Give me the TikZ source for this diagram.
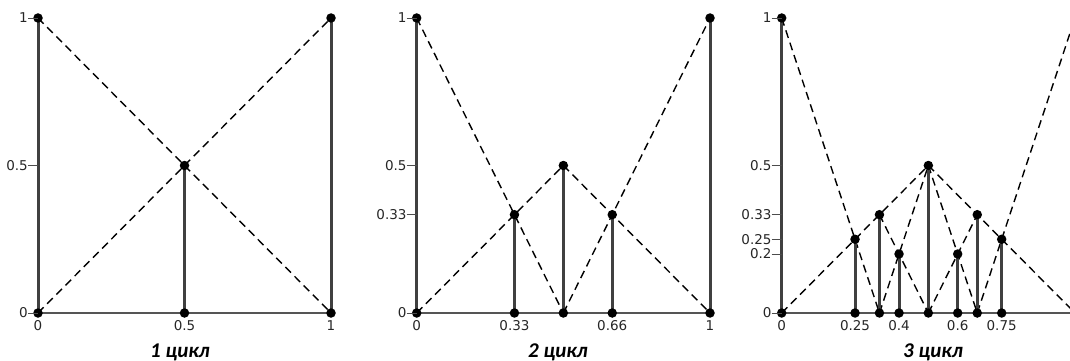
\documentclass[tikz,border=0pt]{standalone}
\usepackage{fontspec}
\setmainfont{DejaVu Sans}
\newfontfamily\titlefont{Carlito}
\tikzset{
  axisline/.style={line width=1.7pt, draw={rgb,255:red,85;green,85;blue,85}},
  bar/.style={line width=3pt, draw={rgb,255:red,64;green,64;blue,64}},
  dline/.style={line width=1.4pt, draw=black, dash pattern=on 8pt off 5pt},
  dot/.style={circle, fill=black, inner sep=0pt, minimum size=9.5pt},
  tickline/.style={line width=0.9pt, draw=black!70},
  ylab/.style={anchor=east, inner sep=0pt, text=black!85, font=\fontsize{13.5}{13.5}\selectfont},
  xlab/.style={anchor=north, inner sep=0pt, text=black!85, font=\fontsize{13.5}{13.5}\selectfont},
  ttl/.style={anchor=base, inner sep=0pt, font=\titlefont\bfseries\itshape\fontsize{21}{21}\selectfont}
}
\begin{document}
\begin{tikzpicture}[x=1pt,y=-1pt]
\useasboundingbox (0,0) rectangle (1070,361);
\clip (0,0) rectangle (1070,361);

% ---------------- Panel 1 ----------------
\begin{scope}[shift={(38,313)},x=293pt,y=295pt]
  \coordinate (a00) at (0,0);
  \coordinate (a01) at (0,1);
  \coordinate (a0h) at (0,0.5);
  \coordinate (ah0) at (0.5,0);
  \coordinate (ahh) at (0.5,0.5);
  \coordinate (a10) at (1,0);
  \coordinate (a11) at (1,1);
  \draw[axisline] (a00) -- (a10);
  \draw[dline] (a01) -- (a10);
  \draw[dline] (a00) -- (a11);
  \draw[bar] (a00) -- (a01);
  \draw[bar] (ah0) -- (ahh);
  \draw[bar] (a10) -- (a11);
  \node[dot] (da00) at (a00) {};
  \node[dot] (da01) at (a01) {};
  \node[dot] (dah0) at (ah0) {};
  \node[dot] (dahh) at (ahh) {};
  \node[dot] (da10) at (a10) {};
  \node[dot] (da11) at (a11) {};
  \node[ylab] (ya1) at ([xshift=-10pt]a01) {1};
  \node[ylab] (yah) at ([xshift=-10pt]a0h) {0.5};
  \node[ylab] (ya0) at ([xshift=-10pt]a00) {0};
  \draw[tickline] (ya1.east) -- (a01);
  \draw[tickline] (yah.east) -- (a0h);
  \draw[tickline] (ya0.east) -- (a00);
  \node[xlab] (xa0) at ([yshift=-7pt]a00) {0};
  \node[xlab] (xah) at ([yshift=-7pt]ah0) {0.5};
  \node[xlab] (xa1) at ([yshift=-7pt]a10) {1};
\end{scope}
\node[ttl] (t1) at (180,357) {1 цикл};

% ---------------- Panel 2 ----------------
\begin{scope}[shift={(416.7,313)},x=293.3pt,y=295pt]
  \coordinate (b00) at (0,0);
  \coordinate (b01) at (0,1);
  \coordinate (b0h) at (0,0.5);
  \coordinate (b0t) at (0,0.3333);
  \coordinate (bt0) at (0.3333,0);
  \coordinate (btt) at (0.3333,0.3333);
  \coordinate (bh0) at (0.5,0);
  \coordinate (bhh) at (0.5,0.5);
  \coordinate (bT0) at (0.6667,0);
  \coordinate (bTt) at (0.6667,0.3333);
  \coordinate (b10) at (1,0);
  \coordinate (b11) at (1,1);
  \draw[axisline] (b00) -- (b10);
  \draw[dline] (b01) -- (bh0);
  \draw[dline] (b00) -- (bhh);
  \draw[dline] (bhh) -- (b10);
  \draw[dline] (bh0) -- (b11);
  \draw[bar] (b00) -- (b01);
  \draw[bar] (bt0) -- (btt);
  \draw[bar] (bh0) -- (bhh);
  \draw[bar] (bT0) -- (bTt);
  \draw[bar] (b10) -- (b11);
  \node[dot] (db00) at (b00) {};
  \node[dot] (db01) at (b01) {};
  \node[dot] (dbt0) at (bt0) {};
  \node[dot] (dbtt) at (btt) {};
  \node[dot] (dbh0) at (bh0) {};
  \node[dot] (dbhh) at (bhh) {};
  \node[dot] (dbT0) at (bT0) {};
  \node[dot] (dbTt) at (bTt) {};
  \node[dot] (db10) at (b10) {};
  \node[dot] (db11) at (b11) {};
  \node[ylab] (yb1) at ([xshift=-10pt]b01) {1};
  \node[ylab] (ybh) at ([xshift=-10pt]b0h) {0.5};
  \node[ylab] (ybt) at ([xshift=-10pt]b0t) {0.33};
  \node[ylab] (yb0) at ([xshift=-10pt]b00) {0};
  \draw[tickline] (yb1.east) -- (b01);
  \draw[tickline] (ybh.east) -- (b0h);
  \draw[tickline] (ybt.east) -- (b0t);
  \draw[tickline] (yb0.east) -- (b00);
  \node[xlab] (xb0) at ([yshift=-7pt]b00) {0};
  \node[xlab] (xbt) at ([yshift=-7pt]bt0) {0.33};
  \node[xlab] (xbT) at ([yshift=-7pt]bT0) {0.66};
  \node[xlab] (xb1) at ([yshift=-7pt]b10) {1};
\end{scope}
\node[ttl] (t2) at (558,357) {2 цикл};

% ---------------- Panel 3 ----------------
\begin{scope}[shift={(781.7,313)},x=293.3pt,y=295pt]
  \coordinate (c00) at (0,0);
  \coordinate (c01) at (0,1);
  \coordinate (c0h) at (0,0.5);
  \coordinate (c0t) at (0,0.3333);
  \coordinate (c0q) at (0,0.25);
  \coordinate (c0f) at (0,0.2);
  \coordinate (cq0) at (0.25,0);
  \coordinate (cqq) at (0.25,0.25);
  \coordinate (ct0) at (0.3333,0);
  \coordinate (ctt) at (0.3333,0.3333);
  \coordinate (cf0) at (0.4,0);
  \coordinate (cff) at (0.4,0.2);
  \coordinate (ch0) at (0.5,0);
  \coordinate (chh) at (0.5,0.5);
  \coordinate (cs0) at (0.6,0);
  \coordinate (css) at (0.6,0.2);
  \coordinate (cT0) at (0.6667,0);
  \coordinate (cTt) at (0.6667,0.3333);
  \coordinate (cQ0) at (0.75,0);
  \coordinate (cQQ) at (0.75,0.25);
  \coordinate (c10) at (1,0);
  \coordinate (c11) at (1,1);
  \draw[axisline] (c00) -- (c10);
  \draw[dline] (c01) -- (ct0);
  \draw[dline] (c00) -- (chh);
  \draw[dline] (ctt) -- (ch0);
  \draw[dline] (ct0) -- (chh);
  \draw[dline] (chh) -- (cT0);
  \draw[dline] (ch0) -- (cTt);
  \draw[dline] (chh) -- (c10);
  \draw[dline] (cT0) -- (c11);
  \draw[bar] (c00) -- (c01);
  \draw[bar] (cq0) -- (cqq);
  \draw[bar] (ct0) -- (ctt);
  \draw[bar] (cf0) -- (cff);
  \draw[bar] (ch0) -- (chh);
  \draw[bar] (cs0) -- (css);
  \draw[bar] (cT0) -- (cTt);
  \draw[bar] (cQ0) -- (cQQ);
  \node[dot] (dc00) at (c00) {};
  \node[dot] (dc01) at (c01) {};
  \node[dot] (dcq0) at (cq0) {};
  \node[dot] (dcqq) at (cqq) {};
  \node[dot] (dct0) at (ct0) {};
  \node[dot] (dctt) at (ctt) {};
  \node[dot] (dcf0) at (cf0) {};
  \node[dot] (dcff) at (cff) {};
  \node[dot] (dch0) at (ch0) {};
  \node[dot] (dchh) at (chh) {};
  \node[dot] (dcs0) at (cs0) {};
  \node[dot] (dcss) at (css) {};
  \node[dot] (dcT0) at (cT0) {};
  \node[dot] (dcTt) at (cTt) {};
  \node[dot] (dcQ0) at (cQ0) {};
  \node[dot] (dcQQ) at (cQQ) {};
  \node[ylab] (yc1) at ([xshift=-10pt]c01) {1};
  \node[ylab] (ych) at ([xshift=-10pt]c0h) {0.5};
  \node[ylab] (yct) at ([xshift=-10pt]c0t) {0.33};
  \node[ylab] (ycq) at ([xshift=-10pt]c0q) {0.25};
  \node[ylab] (ycf) at ([xshift=-10pt]c0f) {0.2};
  \node[ylab] (yc0) at ([xshift=-10pt]c00) {0};
  \draw[tickline] (yc1.east) -- (c01);
  \draw[tickline] (ych.east) -- (c0h);
  \draw[tickline] (yct.east) -- (c0t);
  \draw[tickline] (ycq.east) -- (c0q);
  \draw[tickline] (ycf.east) -- (c0f);
  \draw[tickline] (yc0.east) -- (c00);
  \node[xlab] (xc0) at ([yshift=-7pt]c00) {0};
  \node[xlab] (xcq) at ([yshift=-7pt]cq0) {0.25};
  \node[xlab] (xcf) at ([yshift=-7pt]cf0) {0.4};
  \node[xlab] (xcs) at ([yshift=-7pt]cs0) {0.6};
  \node[xlab] (xcQ) at ([yshift=-7pt]cQ0) {0.75};
\end{scope}
\node[ttl] (t3) at (933,357) {3 цикл};
\end{tikzpicture}
\end{document}
